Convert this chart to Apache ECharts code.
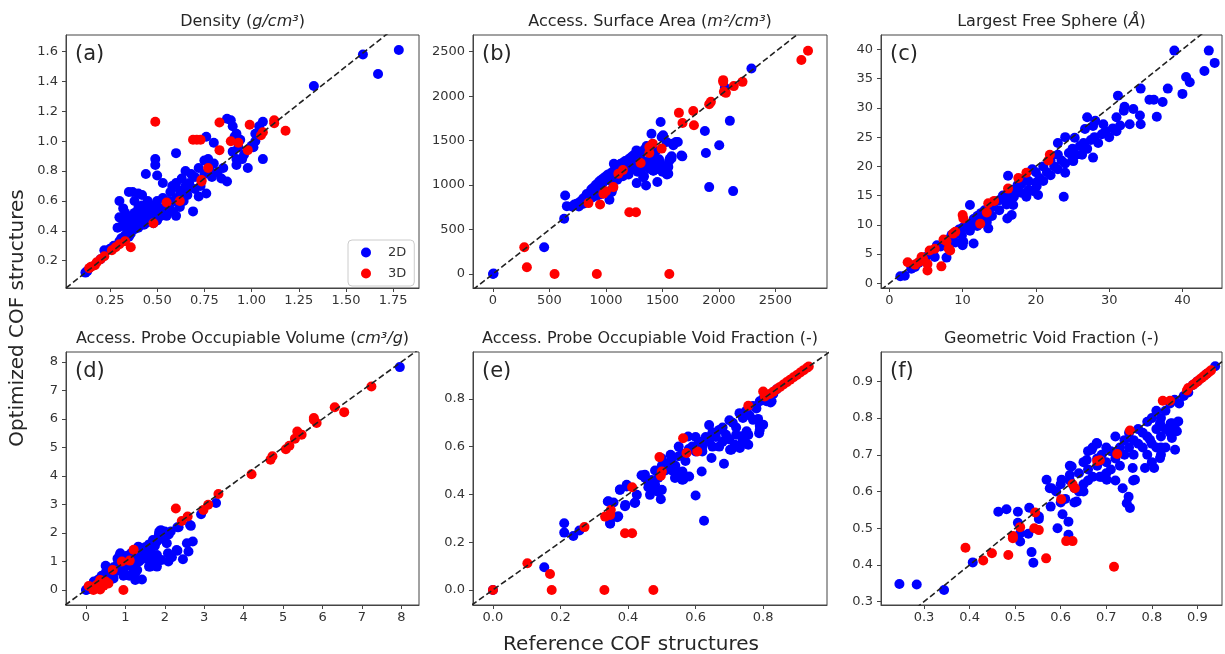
<!DOCTYPE html>
<html>
<head>
<meta charset="utf-8">
<script src="https://cdn.jsdelivr.net/npm/echarts@6/dist/echarts.min.js"></script>
<style>
  html, body { margin: 0; padding: 0; background: #fff; }
  #main { width: 1225px; height: 654px; }
</style>
</head>
<body>
<div id="main"></div>
<script>
// ---- data ----
const densityXTicks = [0.25, 0.5, 0.75, 1.0, 1.25, 1.5, 1.75];
const densityYTicks = [0.2, 0.4, 0.6, 0.8, 1.0, 1.2, 1.4, 1.6];
const surfaceTicks = [0, 500, 1000, 1500, 2000, 2500];
const sphereXTicks = [0, 10, 20, 30, 40];
const sphereYTicks = [0, 5, 10, 15, 20, 25, 30, 35, 40];
const volumeTicks = [0, 1, 2, 3, 4, 5, 6, 7, 8];
const voidTicks = [0, 0.2, 0.4, 0.6, 0.8];
const geoTicks = [0.3, 0.4, 0.5, 0.6, 0.7, 0.8, 0.9];

const density2D = [[0.12,0.12],[0.13,0.13],[0.2,0.21],[0.22,0.27],[0.25,0.28],[0.27,0.3],[0.3,0.33],[0.31,0.35],[0.33,0.37],[0.35,0.36],[0.36,0.4],
  [0.3,0.6],[0.32,0.55],[0.33,0.52],[0.35,0.66],[0.37,0.66],[0.38,0.6],[0.4,0.65],[0.42,0.64],[0.3,0.49],[0.29,0.42],[0.31,0.43],[0.33,0.45],[0.34,0.5],[0.36,0.48],[0.38,0.52],[0.38,0.44],[0.4,0.47],[0.4,0.55],[0.42,0.5],[0.42,0.57],[0.44,0.45],[0.44,0.52],[0.45,0.6],[0.46,0.55],[0.47,0.5],[0.48,0.57],[0.48,0.45],[0.5,0.52],[0.5,0.6],[0.5,0.47],[0.52,0.55],[0.52,0.5],[0.53,0.62],[0.53,0.72],[0.55,0.57],[0.55,0.5],[0.56,0.6],[0.57,0.66],[0.58,0.7],[0.58,0.53],[0.6,0.62],[0.6,0.72],[0.6,0.5],[0.62,0.67],[0.62,0.56],[0.63,0.75],[0.64,0.6],[0.65,0.7],[0.65,0.8],[0.66,0.64],[0.67,0.72],[0.68,0.78],[0.69,0.53],[0.7,0.68],[0.7,0.76],[0.72,0.63],[0.72,0.82],[0.73,0.7],[0.75,0.87],[0.75,0.78],[0.76,0.65],[0.77,0.88],[0.78,0.8],[0.79,0.76],[0.8,0.85],[0.82,0.79],[0.84,0.75],[0.85,0.82],[0.87,0.73],
  [0.44,0.78],[0.49,0.88],[0.49,0.84],[0.5,0.77],[0.6,0.92],[0.76,1.03],[0.8,0.99],[0.87,1.15],[0.89,1.14],[0.9,1.1],[0.92,1.05],[0.91,1.03],[0.94,1.01],[0.9,0.93],[0.92,0.88],[0.95,0.88],[0.92,0.84],[0.98,0.82],[0.93,0.96],[0.96,0.91],[1.0,0.97],[1.01,0.96],[1.02,1.0],[1.04,1.1],[1.06,1.13],[1.06,0.88],[1.02,1.05],
  [0.36,0.38],[0.38,0.41],[0.4,0.42],[0.43,0.44],[0.46,0.47],[0.47,0.53],[0.49,0.5],[0.51,0.53],[0.53,0.55],[0.55,0.54],[0.57,0.58],[0.59,0.6],[0.61,0.6],[0.63,0.64],[0.66,0.68],[0.34,0.42],[0.37,0.47],[0.39,0.5],[0.41,0.44],[0.45,0.49],
  [1.33,1.37],[1.59,1.58],[1.67,1.45],[1.78,1.61]];
const density3D = [[0.49,1.13],[0.69,1.01],[0.71,1.01],[0.73,1.01],[0.83,1.125],[0.83,0.94],[0.89,1.0],[0.93,0.99],[0.99,1.11],[0.98,0.94],[1.05,1.04],[1.06,1.06],[1.12,1.14],[1.12,1.12],[1.18,1.07],[0.77,0.82],[0.735,0.74],[0.735,0.73],[0.55,0.59],[0.62,0.6],[0.36,0.29],[0.33,0.33],[0.3,0.31],[0.28,0.29],[0.26,0.27],[0.22,0.23],[0.2,0.21],[0.18,0.19],[0.17,0.17],[0.15,0.16],[0.14,0.15],[0.48,0.45]];

const surface2D = [[0,0],[5,5],[453,301],[630,620],[639,883],[654,763],[2288,2312],[2053,2098],[2097,1722],[1876,1609],[1885,1361],[2003,1447],[1914,977],[2126,932],[1484,1710],[1403,1578],[1506,1559],[1676,1323],[1581,1323],[1620,1485],[1597,1447],[1537,1485],[1493,1541],[1552,1203],[1552,1128],[1455,1034],[1355,996],[1272,1022],[1337,1098],[1031,835],[1051,921],
  [700,760],[720,780],[740,790],[760,800],[780,820],[800,850],[820,870],[830,900],[850,880],[860,920],[870,950],[880,960],[890,930],[900,980],[910,1000],[920,1010],[930,960],[940,1040],[950,1000],[960,1060],[970,1020],[980,1080],[990,1050],[1000,1100],[1010,1070],[1020,1120],[1030,1090],[1040,1130],[1050,1100],[1060,1150],[1070,1240],[1080,1170],[1090,1200],[1100,1150],[1110,1220],[1120,1190],[1130,1240],[1140,1210],[1150,1250],[1160,1230],[1170,1270],[1180,1200],[1190,1280],[1200,1260],[1210,1300],[1220,1240],[1230,1320],[1240,1290],[1250,1340],[1260,1310],[1270,1390],[1280,1330],[1290,1250],[1300,1350],[1310,1300],[1320,1370],[1340,1400],[1360,1440],[1380,1420],[1400,1320],[1420,1270],[1440,1220],[1460,1180],[1480,1250],[1500,1150],[1520,1190],[1540,1120],[1560,1270],[1580,1300],[1470,1290],[1440,1380],[1420,1160],[1390,1180],[1370,1230],[1350,1260],[1330,1200],[1310,1160],[1280,1150],[1240,1180],[1200,1120],[1180,1180],[1150,1100],[1100,1060],[1060,960],[1040,1050],[1000,920],[960,900],[920,880],[880,860],[840,820],[800,790],[760,760],[1418,1165],[1330,1089],[1565,1296],[1668,1333],[1636,1484],[1592,1466]];
const surface3D = [[277,301],[300,75],[545,0],[919,0],[1561,0],[1207,695],[1266,695],[845,797],[948,782],[1066,977],[978,902],[1110,1128],[1307,1248],[1384,1361],[1384,1428],[1414,1466],[1493,1410],[1646,1812],[1678,1699],[1779,1673],[1773,1834],[1914,1910],[1929,1936],[2038,2161],[2038,2180],[2044,2049],[2062,2037],[2132,2113],[2209,2161],[2730,2406],[2789,2511],[1000,930],[1150,1170]];

const sphere2D = [[1.5,1.2],[2.1,1.3],[3,2.5],[3,3],[3.5,2.8],[4,3.5],[4.5,4],[5,4.5],[5.5,5.2],[6,5.5],[6.2,4.5],[6.5,6.5],[7,6.3],[7.5,7],[7.8,4.4],[8,7.5],[8.5,8.3],[9,8.5],[9,7],[9.5,9.2],[9.9,8.2],[10,9.5],[10.1,7.1],[10.5,10],[10,6.5],[11,10],[11,9],[11,13.4],[11.5,6.8],[11.5,11],[12,11.5],[12,9.8],[12.5,12],[13,12.5],[13,11],[13.3,10.5],[13.5,9.4],[13.5,12.2],[14,13],[14,11.5],[14.5,14],[15,14.2],[15,12.5],[15.5,15],[16,15.2],[16,13.5],[16.1,11.1],[16.2,18.4],[16.5,14],[16.7,11.7],[16.9,13.4],[17,16],[17,14.8],[17.5,16.8],[18,17],[18,15.5],[18.5,18],[18.7,14.8],[19,17.5],[19,16],[19.5,19.5],[19.6,15.8],[20,19],[20,17.2],[20.1,16.6],[20.3,15.1],[20.5,18],[21,20],[21,17.5],[21.5,19],[22,21],[22,18.5],[22.5,20],[23,22],[23,24],[23,19.5],[23.5,21],[23.8,14.8],[24,18.9],[24,20.5],[24,25],[24.5,22.3],[25,23],[25,21.5],[25.1,20.9],[25.3,24.9],[25.5,22],[26,23.5],[26.3,22],[26.5,24],[26.7,26.4],[27,23],[27,28.4],[27.5,24.5],[27.8,21.5],[27.8,26.9],[28,25],[28.1,27.8],[28.5,24],[29,25.5],[29.2,27.2],[29.5,26],[30,25],[30.5,26.5],[31,26],[31,28.4],[31.2,32.1],[31.5,27],[32,29.5],[32.1,30.2],[32.8,27.2],[33.3,29.8],[34.2,28.7],[34.3,27.2],[34.3,33.3],[35.5,31.4],[36.1,31.4],[36.5,28.5],[37.3,31],[38,33.3],[38.9,39.8],[40,32.4],[40.5,35.3],[41,34.4],[43,36.3],[43.6,39.8],[44.4,37.7]];
const sphere3D = [[2.5,3.6],[4,3.6],[4.4,4.5],[5.2,3.3],[5.2,2.2],[7.1,2.9],[5.5,5.6],[6.2,5.9],[7.4,7.5],[7.8,7.2],[8.3,5.6],[8.1,5.9],[9,8.8],[8.7,8.5],[10,11.7],[10.1,11.1],[12.4,10.2],[13.3,12.1],[13.5,13.7],[14.3,14.1],[16.2,16.2],[17.6,18],[18.7,18.9],[21.9,22],[21.7,21],[3.5,3.2],[4.6,4.2]];

const volume2D = [[0,0],[0.02,0.01],[7.96,7.82],[3.3,3.05],[2.92,2.66],[2.66,2.25],[2.32,2.2],[2.71,1.7],[2.56,1.64],[2.6,1.35],[2.32,1.38],[2.46,1.08],[2.08,1.29],[2.18,1.15],[2.09,1.0],[2.05,1.64],[1.86,2.05],[2.05,1.99],[1.8,0.82],[1.63,0.82],[1.42,0.37],[1.25,0.35],[1.8,1.23],
  [0.05,0.05],[0.15,0.12],[0.2,0.3],[0.25,0.2],[0.3,0.35],[0.35,0.4],[0.4,0.5],[0.45,0.45],[0.5,0.6],[0.55,0.5],[0.6,0.7],[0.65,0.55],[0.7,0.8],[0.75,0.65],[0.8,0.9],[0.8,1.1],[0.85,1.2],[0.85,0.75],[0.9,1.0],[0.9,0.85],[0.95,0.7],[1.0,1.1],[1.0,0.9],[1.05,1.2],[1.1,1.0],[1.1,0.85],[1.15,1.3],[1.2,1.1],[1.2,0.9],[1.25,1.35],[1.3,1.2],[1.3,0.7],[1.35,1.45],[1.35,1.0],[1.4,1.2],[1.45,1.1],[1.5,1.5],[1.5,1.3],[1.55,1.25],[1.6,1.6],[1.6,1.05],[1.65,1.45],[1.7,1.75],[1.7,1.2],[1.75,1.55],[1.8,1.7],[1.85,1.95],[1.9,2.1],[1.95,1.8],[2.0,2.05],[2.1,1.95],[2.15,2.05],[0.5,0.85],[1.1,0.5],[0.95,0.5],[1.25,0.6],[1.6,0.82],[1.75,0.95],[0.7,0.4],[0.3,0.1],[0.6,0.35],[1.0,0.53],[1.21,0.64],[0.87,1.29],[1.33,1.52],[1.92,1.05],[2.3,1.4],[2.35,2.2],[2.64,2.28]];
const volume3D = [[7.24,7.14],[6.31,6.41],[6.55,6.24],[5.78,6.03],[5.78,5.97],[5.85,5.86],[5.36,5.56],[5.3,5.31],[5.47,5.45],[5.16,5.06],[5.07,4.94],[4.73,4.69],[4.68,4.57],[4.2,4.06],[3.36,3.37],[3.1,2.99],[2.98,2.81],[2.58,2.58],[2.43,2.42],[2.28,2.86],[1.21,1.41],[1.11,1.03],[0.91,1.0],[0.95,0.0],[0.68,0.7],[0.57,0.23],[0.36,0.35],[0.36,0.02],[0.19,0.0],[0.07,0.14],[0.28,0.18],[0.5,0.3],[0.45,0.15],[0.2,0.1]];

const void2D = [[0,0],[0.152,0.095],[0.211,0.279],[0.211,0.24],[0.238,0.226],[0.256,0.249],[0.347,0.277],[0.368,0.304],[0.34,0.37],[0.357,0.366],[0.376,0.419],[0.396,0.433],[0.392,0.356],[0.421,0.366],[0.426,0.398],[0.45,0.482],[0.465,0.398],[0.475,0.45],[0.497,0.38],[0.5,0.419],[0.526,0.566],[0.546,0.489],[0.56,0.461],[0.561,0.496],[0.581,0.475],[0.618,0.496],[0.6,0.395],[0.625,0.29],[0.647,0.552],[0.684,0.528],[0.578,0.642],[0.702,0.587],[0.716,0.608],[0.731,0.594],[0.739,0.622],[0.756,0.608],[0.756,0.649],[0.77,0.712],[0.79,0.67],[0.79,0.687],[0.788,0.656],[0.822,0.785],
  [0.45,0.47],[0.47,0.46],[0.48,0.5],[0.5,0.52],[0.51,0.5],[0.52,0.53],[0.53,0.55],[0.54,0.52],[0.55,0.56],[0.56,0.57],[0.57,0.54],[0.58,0.59],[0.59,0.6],[0.6,0.58],[0.61,0.62],[0.62,0.6],[0.63,0.64],[0.64,0.62],[0.65,0.66],[0.66,0.64],[0.67,0.67],[0.67,0.6],[0.68,0.68],[0.69,0.65],[0.7,0.71],[0.7,0.63],[0.71,0.7],[0.72,0.68],[0.73,0.74],[0.74,0.72],[0.75,0.75],[0.76,0.73],[0.77,0.77],[0.78,0.76],[0.79,0.79],[0.8,0.8],[0.81,0.79],[0.82,0.81],[0.83,0.82],[0.84,0.84],[0.64,0.69],[0.6,0.64],[0.55,0.6],[0.5,0.55],[0.44,0.48],[0.46,0.45],[0.49,0.47],[0.53,0.5],[0.62,0.58],[0.65,0.6],[0.68,0.62],[0.72,0.65],[0.736,0.643],[0.746,0.622],[0.731,0.601],[0.706,0.587],[0.751,0.664],[0.785,0.716],[0.8,0.692],[0.825,0.79],[0.554,0.476],[0.539,0.469],[0.564,0.462],[0.396,0.44],[0.376,0.42],[0.391,0.35],[0.42,0.364],[0.371,0.308],[0.347,0.28],[0.342,0.371],[0.47,0.42],[0.48,0.44],[0.46,0.43],[0.49,0.41]];
const void3D = [[0,0],[0.102,0.112],[0.169,0.067],[0.174,0],[0.33,0],[0.475,0],[0.271,0.263],[0.332,0.307],[0.347,0.314],[0.349,0.335],[0.391,0.237],[0.412,0.237],[0.412,0.43],[0.493,0.556],[0.5,0.496],[0.497,0.478],[0.563,0.635],[0.573,0.573],[0.605,0.58],[0.756,0.771],[0.8,0.831],[0.805,0.81],[0.82,0.82],[0.83,0.83],[0.84,0.84],[0.85,0.85],[0.86,0.86],[0.87,0.87],[0.88,0.88],[0.89,0.89],[0.9,0.9],[0.91,0.91],[0.92,0.92],[0.93,0.93],[0.935,0.935]];

const geo2D = [[0.246,0.348],[0.284,0.347],[0.344,0.332],[0.407,0.407],[0.536,0.435],[0.54,0.406],[0.463,0.545],[0.481,0.552],[0.506,0.545],[0.506,0.515],[0.531,0.556],[0.552,0.532],[0.552,0.525],[0.511,0.486],[0.511,0.464],[0.529,0.485],[0.593,0.5],[0.617,0.518],[0.617,0.482],[0.604,0.538],[0.578,0.559],[0.569,0.632],[0.576,0.609],[0.635,0.573],[0.624,0.668],[0.736,0.609],[0.749,0.586],[0.745,0.568],[0.752,0.555],[0.759,0.63],[0.758,0.664],[0.785,0.664],[0.805,0.664],[0.851,0.714],[0.818,0.691],[0.855,0.764],[0.858,0.791],[0.841,0.785],[0.701,0.632],[0.939,0.941],
  [0.59,0.6],[0.6,0.62],[0.61,0.58],[0.62,0.63],[0.63,0.61],[0.64,0.65],[0.65,0.62],[0.65,0.68],[0.66,0.66],[0.67,0.64],[0.67,0.72],[0.68,0.73],[0.68,0.67],[0.69,0.7],[0.7,0.68],[0.7,0.65],[0.71,0.71],[0.72,0.69],[0.72,0.75],[0.73,0.72],[0.73,0.67],[0.74,0.74],[0.74,0.7],[0.75,0.76],[0.75,0.72],[0.76,0.74],[0.76,0.7],[0.77,0.77],[0.77,0.73],[0.78,0.76],[0.78,0.72],[0.79,0.79],[0.79,0.75],[0.8,0.8],[0.8,0.73],[0.81,0.82],[0.81,0.77],[0.82,0.8],[0.82,0.75],[0.83,0.82],[0.83,0.77],[0.84,0.84],[0.84,0.76],[0.85,0.85],[0.85,0.78],[0.86,0.84],[0.87,0.86],[0.88,0.87],[0.62,0.67],[0.64,0.6],[0.66,0.63],[0.69,0.64],[0.71,0.66],[0.72,0.63],[0.63,0.57],[0.6,0.57],[0.8,0.68],[0.82,0.7],[0.83,0.72],[0.79,0.7],[0.81,0.72],[0.7,0.72],[0.66,0.71],[0.68,0.69],[0.58,0.609],[0.602,0.632],[0.62,0.645],[0.65,0.6],[0.679,0.732],[0.668,0.714],[0.657,0.686],[0.686,0.64],[0.763,0.632],[0.796,0.741],[0.82,0.72],[0.844,0.746],[0.844,0.786],[0.818,0.786],[0.89,0.89],[0.9,0.9],[0.92,0.92]];
const geo3D = [[0.391,0.447],[0.43,0.412],[0.449,0.432],[0.485,0.427],[0.495,0.473],[0.495,0.479],[0.511,0.503],[0.544,0.543],[0.542,0.5],[0.552,0.495],[0.568,0.418],[0.612,0.465],[0.626,0.465],[0.601,0.579],[0.631,0.609],[0.626,0.62],[0.717,0.395],[0.686,0.685],[0.68,0.683],[0.724,0.702],[0.752,0.766],[0.824,0.847],[0.84,0.847],[0.877,0.875],[0.88,0.882],[0.89,0.89],[0.895,0.895],[0.9,0.9],[0.905,0.905],[0.91,0.91],[0.915,0.915],[0.92,0.92],[0.925,0.925],[0.93,0.93]];

// ---- layout ----
const FONT = 'DejaVu Sans';
const TXT = '#262626';
const panels = [
  { label: '(a)', title: 'Density ({i|g/cm³})', box: [66, 35, 353, 253], x: [0.017, 1.887], y: [0.017, 1.711], xt: densityXTicks, yt: densityYTicks, xd: 2, yd: 1, d2: density2D, d3: density3D },
  { label: '(b)', title: 'Access. Surface Area ({i|m²/cm³})', box: [473, 35, 354, 253], x: [-177, 2957], y: [-158, 2688], xt: surfaceTicks, yt: surfaceTicks, xd: 0, yd: 0, d2: surface2D, d3: surface3D },
  { label: '(c)', title: 'Largest Free Sphere ({i|Å})', box: [881, 35, 341, 253], x: [-1.14, 45.4], y: [-0.8, 42.47], xt: sphereXTicks, yt: sphereYTicks, xd: 0, yd: 0, d2: sphere2D, d3: sphere3D },
  { label: '(d)', title: 'Access. Probe Occupiable Volume ({i|cm³/g})', box: [66, 352, 353, 253], x: [-0.506, 8.447], y: [-0.527, 8.35], xt: volumeTicks, yt: volumeTicks, xd: 0, yd: 0, d2: volume2D, d3: volume3D },
  { label: '(e)', title: 'Access. Probe Occupiable Void Fraction (-)', box: [473, 352, 354, 253], x: [-0.059, 0.989], y: [-0.063, 0.996], xt: voidTicks, yt: voidTicks, xd: 1, yd: 1, d2: void2D, d3: void3D },
  { label: '(f)', title: 'Geometric Void Fraction (-)', box: [881, 352, 341, 253], x: [0.2056, 0.954], y: [0.291, 0.98], xt: geoTicks, yt: geoTicks, xd: 1, yd: 1, d2: geo2D, d3: geo3D }
];

const chart = echarts.init(document.getElementById('main'), null, { renderer: 'canvas' });

function axis(p, i, isX) {
  const r = isX ? p.x : p.y;
  const ticks = isX ? p.xt : p.yt;
  const dec = isX ? p.xd : p.yd;
  return {
    type: 'value', gridIndex: i, min: r[0], max: r[1],
    splitLine: { show: false },
    axisLine: { show: true, onZero: false, lineStyle: { color: '#444', width: 1 } },
    axisTick: { show: true, length: 4, customValues: ticks, lineStyle: { color: '#444' } },
    axisLabel: { customValues: ticks, formatter: v => v.toFixed(dec), fontSize: 13, color: '#333', fontFamily: FONT, margin: isX ? 6 : 8 }
  };
}

const graphics = [];
panels.forEach(p => {
  const [l, t, w] = p.box;
  graphics.push({
    type: 'text', x: l + w / 2, y: t - 13,
    style: {
      text: p.title, fill: TXT, fontSize: 16, fontFamily: FONT,
      align: 'center', verticalAlign: 'middle', textAlign: 'center', textVerticalAlign: 'middle',
      rich: { i: { fontStyle: 'italic', fontSize: 16, fontFamily: FONT, fill: TXT } }
    }
  });
  graphics.push({
    type: 'text', x: l + 9, y: t + 20,
    style: { text: p.label, fill: TXT, fontSize: 21, fontFamily: FONT, align: 'left', verticalAlign: 'middle', textAlign: 'left', textVerticalAlign: 'middle' }
  });
});
graphics.push({
  type: 'text', x: 18, y: 318, rotation: Math.PI / 2,
  style: { text: 'Optimized COF structures', fill: TXT, fontSize: 20, fontFamily: FONT, align: 'center', verticalAlign: 'middle', textAlign: 'center', textVerticalAlign: 'middle' }
});
graphics.push({
  type: 'text', x: 631, y: 645,
  style: { text: 'Reference COF structures', fill: TXT, fontSize: 20, fontFamily: FONT, align: 'center', verticalAlign: 'middle', textAlign: 'center', textVerticalAlign: 'middle' }
});

const series = [];
panels.forEach((p, i) => {
  series.push({ name: '2D', type: 'scatter', xAxisIndex: i, yAxisIndex: i, data: p.d2, symbolSize: 10, itemStyle: { color: '#0000ff', opacity: 1 }, z: 2, silent: true });
  series.push({ name: '3D', type: 'scatter', xAxisIndex: i, yAxisIndex: i, data: p.d3, symbolSize: 10, itemStyle: { color: '#ff0000', opacity: 1 }, z: 3, silent: true });
  const lo = Math.min(p.x[0], p.y[0]), hi = Math.max(p.x[1], p.y[1]);
  series.push({ type: 'line', xAxisIndex: i, yAxisIndex: i, data: [[lo, lo], [hi, hi]], symbol: 'none', clip: true, silent: true, z: 4,
    lineStyle: { color: '#222', width: 1.6, type: [6, 3] } });
});

chart.setOption({
  animation: false,
  backgroundColor: '#fff',
  textStyle: { fontFamily: FONT },
  grid: panels.map(p => ({ left: p.box[0], top: p.box[1], width: p.box[2], height: p.box[3], show: true, borderColor: '#444', borderWidth: 1, backgroundColor: '#fff', containLabel: false, outerBoundsMode: 'none' })),
  xAxis: panels.map((p, i) => axis(p, i, true)),
  yAxis: panels.map((p, i) => axis(p, i, false)),
  legend: {
    data: ['2D', '3D'], orient: 'vertical', left: 348, top: 240,
    icon: 'circle', itemWidth: 10, itemHeight: 10, itemGap: 8,
    borderColor: '#ccc', borderWidth: 1, borderRadius: 4, backgroundColor: '#fff',
    padding: [6, 8, 6, 13],
    textStyle: { fontSize: 13, color: '#333', fontFamily: FONT, padding: [0, 0, 0, 12] }
  },
  graphic: graphics,
  series: series
});
</script>
</body>
</html>
